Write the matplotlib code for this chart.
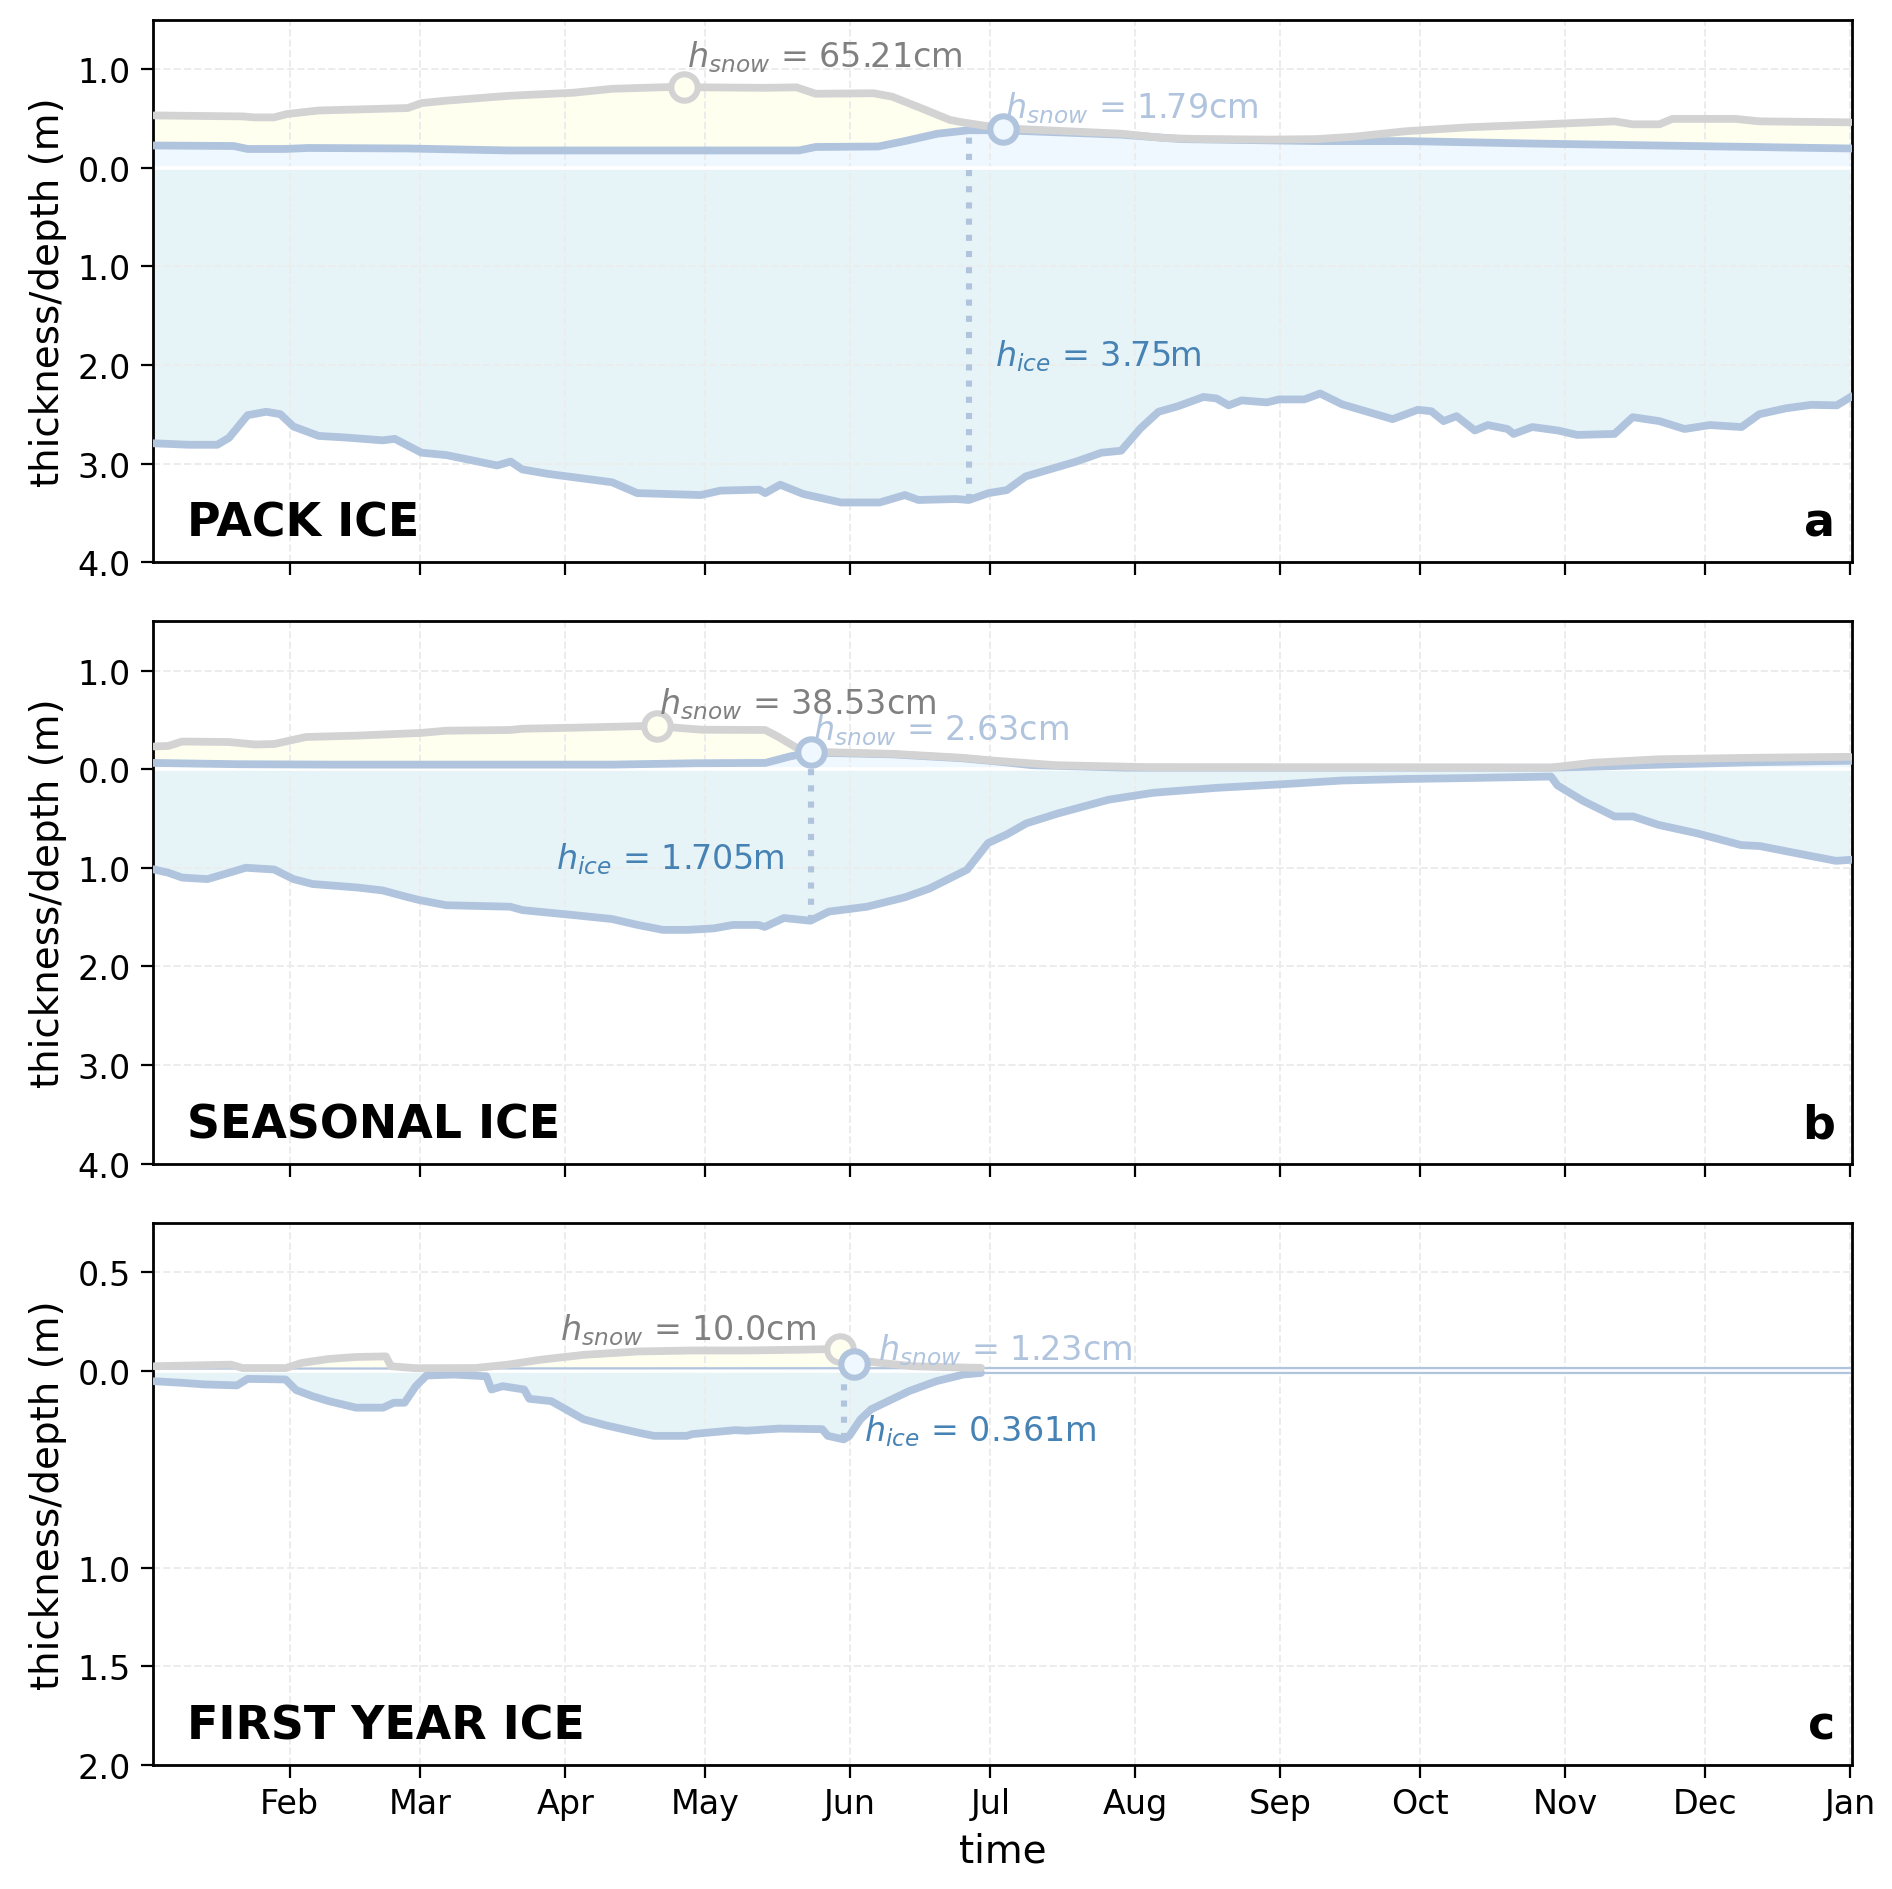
import numpy as np
import pandas as pd
import matplotlib
matplotlib.use("Agg")
import matplotlib.pyplot as plt
import matplotlib.dates as mdates
from matplotlib.ticker import FuncFormatter

YEAR_START = pd.Timestamp("2021-01-01")

# ---- panel a : pack ice ----
pack_snow_day = [2, 21, 23.5, 27.6, 30.5, 37.2, 56.3, 59.2, 64.6, 75.4, 78.3, 91.7, 100, 113.7,
                 115.5, 119, 132.8, 139.5, 143.6, 156, 160, 166.9, 172.3, 175, 183.4, 209, 218.3,
                 226.6, 241, 250.8, 259, 270, 283.4, 297, 314.6, 318.5, 324.2, 327, 340.5, 345.6, 365]
pack_snow_top = [0.53, 0.52, 0.51, 0.51, 0.545, 0.58, 0.605, 0.655, 0.68, 0.72, 0.73, 0.76, 0.80, 0.82,
                 0.82, 0.815, 0.81, 0.815, 0.75, 0.755, 0.72, 0.59, 0.485, 0.46, 0.40, 0.345, 0.30,
                 0.29, 0.285, 0.29, 0.315, 0.37, 0.41, 0.435, 0.47, 0.44, 0.44, 0.495, 0.495, 0.47, 0.46]
pack_fb_day = [2, 19, 22, 30, 35, 56, 78, 140, 143.6, 157, 162.7, 169.7, 176.4, 183.4, 209, 222,
               251, 270, 297, 324, 365]
pack_fb = [0.225, 0.22, 0.19, 0.19, 0.20, 0.195, 0.175, 0.175, 0.21, 0.215, 0.27, 0.345, 0.38, 0.38,
           0.335, 0.29, 0.27, 0.27, 0.245, 0.225, 0.195]
pack_draft_day = [2, 9.5, 15.5, 18, 22, 26, 29, 31.8, 37.2, 42.6, 50.9, 53.5, 59.2, 64.6, 75.4, 78.3,
                  80.8, 86.3, 100, 105.4, 119, 123.2, 131.5, 132.8, 136, 141, 149, 157.3, 162.7,
                  165.6, 173.6, 176.4, 180.6, 184.5, 188.6, 199.4, 204.8, 209, 213.1, 217, 221.1,
                  226.6, 229.4, 232, 234.8, 240.2, 242.8, 248.2, 251.6, 256.3, 261.7, 267.1, 272.5,
                  275.4, 278, 280.8, 284.7, 287.5, 291.7, 293, 297, 302.5, 306.6, 314.6, 318.5,
                  324.2, 329.6, 335, 341.8, 345.6, 351.3, 356.7, 362.2, 365]
pack_draft = [-2.795, -2.81, -2.81, -2.74, -2.51, -2.475, -2.50, -2.625, -2.72, -2.735, -2.765, -2.75,
              -2.89, -2.915, -3.02, -2.98, -3.06, -3.105, -3.19, -3.30, -3.32, -3.275, -3.265, -3.30,
              -3.215, -3.31, -3.395, -3.395, -3.32, -3.37, -3.36, -3.37, -3.30, -3.27, -3.13, -2.98,
              -2.89, -2.87, -2.645, -2.475, -2.42, -2.325, -2.34, -2.41, -2.36, -2.38, -2.35, -2.35,
              -2.29, -2.40, -2.475, -2.55, -2.455, -2.47, -2.57, -2.52, -2.665, -2.61, -2.65, -2.70,
              -2.63, -2.665, -2.71, -2.70, -2.53, -2.57, -2.65, -2.61, -2.63, -2.50, -2.44, -2.405,
              -2.41, -2.33]

# ---- panel b : seasonal ice ----
seas_snow_day = [2, 5, 8, 18, 23.6, 27.7, 34.5, 45.4, 59, 64.5, 78.2, 80.9, 91.8, 109.6, 113.7,
                 119.2, 132.8, 135.5, 139.6, 143.7, 160.1, 175, 182, 195, 215, 301, 310, 324, 344, 365]
seas_snow_top = [0.23, 0.235, 0.28, 0.275, 0.25, 0.255, 0.326, 0.34, 0.367, 0.39, 0.397, 0.41, 0.42,
                 0.44, 0.42, 0.40, 0.397, 0.33, 0.215, 0.175, 0.155, 0.115, 0.085, 0.04, 0.02, 0.016,
                 0.065, 0.10, 0.115, 0.125]
seas_fb_day = [2, 20, 40, 100, 118, 132.8, 138.2, 142.5, 160, 175, 182, 190, 210, 301, 310, 324, 344, 365]
seas_fb = [0.063, 0.05, 0.046, 0.046, 0.06, 0.063, 0.13, 0.168, 0.15, 0.11, 0.08, 0.04, 0.015, 0.015,
           0.025, 0.045, 0.07, 0.085]
seas_draft_day = [2, 5, 8, 13.4, 18.8, 21.6, 27.7, 31.8, 35.9, 45.4, 50.9, 56.4, 59, 64.5, 78.2, 80.9,
                  91.8, 100, 105.5, 110.9, 116.3, 121.8, 125.9, 131.3, 132.7, 136.8, 142.5, 146.4,
                  154.6, 162.7, 168, 176, 180.5, 184.6, 188.7, 195.4, 206.3, 215.8, 229.3, 242.8,
                  256.4, 269.9, 283.4, 301, 302.4, 307.8, 314.6, 318.6, 324, 332.2, 341.7, 345.7,
                  353.8, 362, 365]
seas_draft = [-1.018, -1.05, -1.10, -1.115, -1.04, -1.00, -1.018, -1.115, -1.165, -1.20, -1.23, -1.30,
              -1.33, -1.38, -1.395, -1.43, -1.48, -1.52, -1.58, -1.63, -1.63, -1.615, -1.58, -1.58,
              -1.60, -1.51, -1.537, -1.445, -1.395, -1.30, -1.21, -1.02, -0.75, -0.66, -0.55, -0.45,
              -0.31, -0.24, -0.19, -0.155, -0.115, -0.10, -0.09, -0.075, -0.165, -0.32, -0.48, -0.48,
              -0.565, -0.65, -0.77, -0.78, -0.855, -0.93, -0.92]

# ---- panel c : first year ice ----
fyi_snow_day = [2, 18.5, 20.9, 30.2, 33.6, 39.4, 45.2, 51.6, 52.7, 58, 70.7, 77.7, 84.7, 94, 105.6,
                117.2, 128.8, 140.4, 148.8, 151.7, 157.5, 164.5, 176, 179]
fyi_snow_top = [0.022, 0.03, 0.013, 0.013, 0.039, 0.059, 0.069, 0.072, 0.022, 0.012, 0.013, 0.03,
                0.055, 0.08, 0.097, 0.102, 0.102, 0.106, 0.11, 0.055, 0.039, 0.022, 0.015, 0.014]
fyi_fb_day = [2, 150, 180, 365]
fyi_fb = [0.010, 0.012, 0.013, 0.013]
fyi_draft_day = [2, 8, 12.7, 19.7, 22, 30.1, 32.4, 35.9, 39.4, 45.2, 51, 53.3, 55.6, 58, 60.3, 66.1,
                 73.1, 74.2, 76.6, 81.2, 82.3, 87, 93.9, 98.6, 105.5, 109, 116, 117.2, 126.4, 128.8,
                 135.8, 145, 146.2, 149.6, 150.8, 153.2, 155.5, 163.6, 169.4, 175.2, 179, 365]
fyi_draft = [-0.054, -0.062, -0.07, -0.075, -0.042, -0.045, -0.099, -0.13, -0.155, -0.188, -0.188,
             -0.163, -0.163, -0.079, -0.025, -0.02, -0.029, -0.096, -0.079, -0.096, -0.143, -0.155,
             -0.247, -0.277, -0.314, -0.331, -0.331, -0.322, -0.302, -0.305, -0.294, -0.297, -0.331,
             -0.349, -0.331, -0.247, -0.196, -0.104, -0.054, -0.02, -0.012, -0.012]

# ---- annotation data (a, b, c) ----
panel_names = ["PACK ICE", "SEASONAL ICE", "FIRST YEAR ICE"]
panel_letters = ["a", "b", "c"]
peak_day = [115.5, 109.6, 148.8]
peak_top = [0.82, 0.44, 0.11]
peak_label = ["65.21cm", "38.53cm", "10.0cm"]
melt_day = [183.7, 142.5, 151.9]
melt_top = [0.39, 0.177, 0.035]
melt_label = ["1.79cm", "2.63cm", "1.23cm"]
ice_day = [176.4, 142.5, 149.6]
ice_top = [0.38, 0.168, 0.012]
ice_bottom = [-3.37, -1.537, -0.349]
ice_label = ["3.75m", "1.705m", "0.361m"]

SNOW_LINE = "lightgray"
ICE_LINE = "lightsteelblue"
SNOW_FILL = "ivory"
FB_FILL = "aliceblue"
ICE_FILL = "#e6f3f7"
LW = 2.8


def to_x(days):
    return mdates.date2num(YEAR_START + pd.to_timedelta(np.asarray(days, dtype=float), unit="D"))


def draw_panel(ax, snow_day, snow_top, fb_day, fb, draft_day, draft, thin_fb=False, thick_until=None):
    xs, xf, xd = to_x(snow_day), to_x(fb_day), to_x(draft_day)
    snow_top, fb, draft = np.array(snow_top), np.array(fb), np.array(draft)

    ax.fill_between(xf, fb, 0, color=FB_FILL, lw=0, zorder=1)
    ax.fill(np.r_[xs, xf[::-1]], np.r_[snow_top, fb[::-1]], color=SNOW_FILL, lw=0, zorder=1)
    ax.fill_between(xd, draft, 0, color=ICE_FILL, lw=0, zorder=1)
    ax.axhline(0, color="white", lw=1.3, zorder=2)

    if thin_fb:
        ax.plot(xf, fb, color=ICE_LINE, lw=0.8, zorder=3)
        ax.plot(xd, draft, color=ICE_LINE, lw=0.8, zorder=3)
        keep = np.array(draft_day) <= thick_until
        ax.plot(xd[keep], draft[keep], color=ICE_LINE, lw=LW, zorder=3, solid_capstyle="round")
    else:
        ax.plot(xf, fb, color=ICE_LINE, lw=LW, zorder=3)
        ax.plot(xd, draft, color=ICE_LINE, lw=LW, zorder=3)
    ax.plot(xs, snow_top, color=SNOW_LINE, lw=LW, zorder=3.2, solid_capstyle="round")


fig, axes = plt.subplots(3, 1, figsize=(9.46, 9.45), dpi=200, sharex=True)
fig.subplots_adjust(left=0.081, right=0.979, top=0.989, bottom=0.0656, hspace=0.109)

draw_panel(axes[0], pack_snow_day, pack_snow_top, pack_fb_day, pack_fb, pack_draft_day, pack_draft)
draw_panel(axes[1], seas_snow_day, seas_snow_top, seas_fb_day, seas_fb, seas_draft_day, seas_draft)
draw_panel(axes[2], fyi_snow_day, fyi_snow_top, fyi_fb_day, fyi_fb, fyi_draft_day, fyi_draft,
           thin_fb=True, thick_until=179)

# text placement per panel: (dx days, dy m, ha) for peak / melt, (dx days, y, ha) for ice
peak_pos = [(0.5, 0.31, "left"), (0.4, 0.225, "left"), (-5.2, 0.098, "right")]
melt_pos = [(0.5, 0.22, "left"), (0.6, 0.233, "left"), (5.0, 0.075, "left")]
ice_pos = [(5.6, -1.90, "left"), (-5.8, -0.90, "right"), (4.4, -0.30, "left")]

for i, ax in enumerate(axes):
    ax.vlines(to_x([ice_day[i]]), ice_bottom[i], ice_top[i], colors=ICE_LINE,
              linestyles=":", lw=2.2, zorder=2.5)
    ax.plot(to_x([peak_day[i]]), [peak_top[i]], "o", ms=9.5, mfc=SNOW_FILL, mec=SNOW_LINE,
            mew=2.2, zorder=5)
    ax.plot(to_x([melt_day[i]]), [melt_top[i]], "o", ms=9.5, mfc=FB_FILL, mec=ICE_LINE,
            mew=2.2, zorder=5)

    dx, dy, ha = peak_pos[i]
    ax.text(to_x([peak_day[i] + dx])[0], peak_top[i] + dy, "$h_{snow}$ = " + peak_label[i],
            color="grey", fontsize=12, ha=ha, va="center", zorder=6)
    dx, dy, ha = melt_pos[i]
    ax.text(to_x([melt_day[i] + dx])[0], melt_top[i] + dy, "$h_{snow}$ = " + melt_label[i],
            color=ICE_LINE, fontsize=12, ha=ha, va="center", zorder=6)
    dx, y, ha = ice_pos[i]
    ax.text(to_x([ice_day[i] + dx])[0], y, "$h_{ice}$ = " + ice_label[i],
            color="steelblue", fontsize=12, ha=ha, va="center", zorder=6)

    ax.text(0.02, 0.03, panel_names[i], transform=ax.transAxes, fontsize=16.5,
            fontweight="bold", ha="left", va="bottom")
    ax.text(0.99, 0.03, panel_letters[i], transform=ax.transAxes, fontsize=16.5,
            fontweight="bold", ha="right", va="bottom")

    ax.set_ylabel("thickness/depth (m)", fontsize=14)
    ax.yaxis.set_major_formatter(FuncFormatter(lambda v, p: f"{abs(v):.1f}"))
    ax.grid(True, ls="--", lw=0.7, color="#ececec", zorder=1.5)
    ax.tick_params(labelsize=12, length=4.5)
    for s in ax.spines.values():
        s.set_linewidth(1.0)

axes[0].set_ylim(-4.0, 1.5)
axes[1].set_ylim(-4.0, 1.5)
axes[0].set_yticks([1, 0, -1, -2, -3, -4])
axes[1].set_yticks([1, 0, -1, -2, -3, -4])
axes[2].set_ylim(-2.0, 0.75)
axes[2].set_yticks([0.5, 0, -1.0, -1.5, -2.0])

axes[2].set_xlim(to_x([1.8])[0], to_x([365.5])[0])
axes[2].xaxis.set_major_locator(mdates.MonthLocator())
axes[2].xaxis.set_major_formatter(mdates.DateFormatter("%b"))
axes[2].set_xlabel("time", fontsize=14)

fig.savefig("out.png", dpi=200)
